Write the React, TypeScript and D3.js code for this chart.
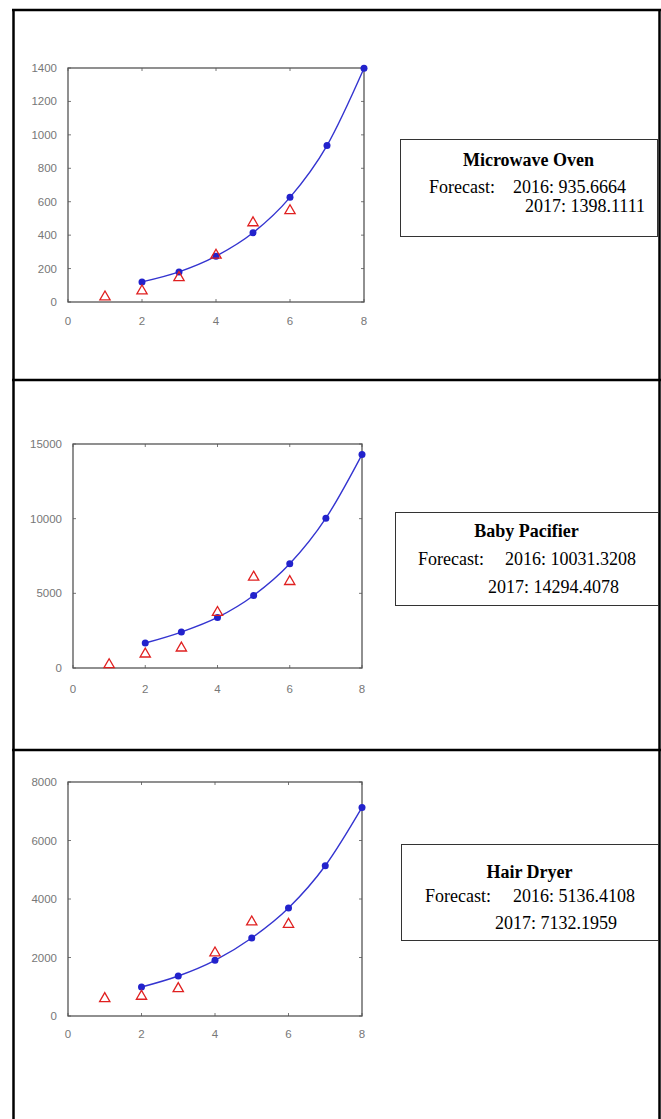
import React, { useEffect, useRef } from 'react'
import * as d3 from 'd3'

const W = 661
const H = 1119

// shared x values
const actualYears = [1, 2, 3, 4, 5, 6]
const fitYears = [2, 3, 4, 5, 6, 7, 8]
const xTicks = [0, 2, 4, 6, 8]

// Microwave Oven
const ovenActual = [30, 66, 146, 280, 474, 546]
const ovenFit = [120, 180, 274, 414, 626, 935.6664, 1398.1111]

// Baby Pacifier
const pacifierActual = [220, 936, 1337, 3718, 6085, 5791]
const pacifierFit = [1672, 2407, 3384, 4855, 6975, 10031.3208, 14294.4078]

// Hair Dryer
const dryerActual = [595, 674, 937, 2154, 3214, 3135]
const dryerFit = [991, 1368, 1904, 2667, 3692, 5136.4108, 7132.1959]

const products = ['Microwave Oven', 'Baby Pacifier', 'Hair Dryer']
const forecast2016 = ['935.6664', '10031.3208', '5136.4108']
const forecast2017 = ['1398.1111', '14294.4078', '7132.1959']
const yMax = [1400, 15000, 8000]
const yStep = [200, 5000, 2000]

const actualSeries = [ovenActual, pacifierActual, dryerActual]
const fitSeries = [ovenFit, pacifierFit, dryerFit]

// layout for each row (pixels)
const plots = [
  { left: 68, right: 364, top: 68, bottom: 302, xLab: 23 },
  { left: 73, right: 362, top: 444, bottom: 668, xLab: 25 },
  { left: 68, right: 362, top: 782, bottom: 1016, xLab: 22 }
]
const boxes = [
  { x: 400, y: 139, w: 257, h: 97, lines: [27, 54, 73], fx: 29, x16: 113, x17: 125 },
  { x: 395, y: 512, w: 263, h: 93, lines: [25, 53, 81], fx: 23, x16: 110, x17: 93 },
  { x: 401, y: 844, w: 257, h: 96, lines: [34, 58, 85], fx: 24, x16: 112, x17: 94 }
]

const App = () => {
  const ref = useRef<SVGSVGElement>(null)

  useEffect(() => {
    const svg = d3.select(ref.current)
    svg.selectAll('*').remove()

    svg.append('rect').attr('width', W).attr('height', H).attr('fill', '#fff')

    // table frame
    const frame = svg.append('g').attr('stroke', '#000').attr('stroke-width', 2.5)
    frame.append('line').attr('x1', 13.5).attr('x2', 13.5).attr('y1', 9).attr('y2', H)
    frame.append('line').attr('x1', 659.5).attr('x2', 659.5).attr('y1', 9).attr('y2', H)
    frame.append('line').attr('x1', 12).attr('x2', W).attr('y1', 10).attr('y2', 10)
    frame.append('line').attr('x1', 12).attr('x2', W).attr('y1', 380).attr('y2', 380)
    frame.append('line').attr('x1', 12).attr('x2', W).attr('y1', 750).attr('y2', 750)

    products.forEach((name, i) => {
      const p = plots[i]
      const x = d3.scaleLinear().domain([0, 8]).range([p.left, p.right])
      const y = d3.scaleLinear().domain([0, yMax[i]]).range([p.bottom, p.top])
      const yTicks = d3.range(0, yMax[i] + 1, yStep[i])
      const g = svg.append('g')

      // ticks on all four sides, pointing inward
      const tickG = g.append('g').attr('stroke', '#777').attr('stroke-width', 1)
      xTicks.forEach(t => {
        tickG.append('line').attr('x1', x(t)).attr('x2', x(t)).attr('y1', p.bottom).attr('y2', p.bottom - 3)
        tickG.append('line').attr('x1', x(t)).attr('x2', x(t)).attr('y1', p.top).attr('y2', p.top + 3)
      })
      yTicks.forEach(t => {
        tickG.append('line').attr('x1', p.left).attr('x2', p.left + 3).attr('y1', y(t)).attr('y2', y(t))
        tickG.append('line').attr('x1', p.right).attr('x2', p.right - 3).attr('y1', y(t)).attr('y2', y(t))
      })

      g.append('rect')
        .attr('x', p.left)
        .attr('y', p.top)
        .attr('width', p.right - p.left)
        .attr('height', p.bottom - p.top)
        .attr('fill', 'none')
        .attr('stroke', '#555')
        .attr('stroke-width', 1.3)

      g.append('g')
        .selectAll('text')
        .data(xTicks)
        .join('text')
        .attr('x', d => x(d))
        .attr('y', p.bottom + p.xLab)
        .attr('text-anchor', 'middle')
        .attr('font-family', 'Liberation Sans, Arial, sans-serif')
        .attr('font-size', 11.5)
        .attr('fill', '#777')
        .text(d => d)

      g.append('g')
        .selectAll('text')
        .data(yTicks)
        .join('text')
        .attr('x', p.left - 11)
        .attr('y', d => y(d))
        .attr('dy', '0.35em')
        .attr('text-anchor', 'end')
        .attr('font-family', 'Liberation Sans, Arial, sans-serif')
        .attr('font-size', 11.5)
        .attr('fill', '#777')
        .text(d => d)

      const fit = fitYears.map((yr, j) => [yr, fitSeries[i][j]] as [number, number])
      const line = d3
        .line<[number, number]>()
        .x(d => x(d[0]))
        .y(d => y(d[1]))
        .curve(d3.curveMonotoneX)

      g.append('path')
        .attr('d', line(fit))
        .attr('fill', 'none')
        .attr('stroke', '#3434d0')
        .attr('stroke-width', 1.4)

      g.append('g')
        .selectAll('circle')
        .data(fit)
        .join('circle')
        .attr('cx', d => x(d[0]))
        .attr('cy', d => y(d[1]))
        .attr('r', 3.5)
        .attr('fill', '#2222cc')

      const tri = d3.symbol().type(d3.symbolTriangle).size(46)
      g.append('g')
        .selectAll('path')
        .data(actualYears.map((yr, j) => [yr, actualSeries[i][j]]))
        .join('path')
        .attr('d', tri())
        .attr('transform', d => `translate(${x(d[0])},${y(d[1])})`)
        .attr('fill', 'none')
        .attr('stroke', '#e02020')
        .attr('stroke-width', 1.3)

      // forecast text box
      const b = boxes[i]
      const box = svg.append('g').attr('transform', `translate(${b.x},${b.y})`)
      box
        .append('rect')
        .attr('x', 0.5)
        .attr('y', 0.5)
        .attr('width', b.w)
        .attr('height', b.h)
        .attr('fill', '#fff')
        .attr('stroke', '#333')
        .attr('stroke-width', 1)
      const serif = 'Liberation Serif, Times New Roman, serif'
      box
        .append('text')
        .attr('x', b.w / 2)
        .attr('y', b.lines[0])
        .attr('text-anchor', 'middle')
        .attr('font-family', serif)
        .attr('font-size', 18)
        .attr('font-weight', 'bold')
        .text(name)
      box
        .append('text')
        .attr('x', b.fx)
        .attr('y', b.lines[1])
        .attr('font-family', serif)
        .attr('font-size', 18)
        .text('Forecast:')
      box
        .append('text')
        .attr('x', b.x16)
        .attr('y', b.lines[1])
        .attr('font-family', serif)
        .attr('font-size', 18)
        .text(`2016: ${forecast2016[i]}`)
      box
        .append('text')
        .attr('x', b.x17)
        .attr('y', b.lines[2])
        .attr('font-family', serif)
        .attr('font-size', 18)
        .text(`2017: ${forecast2017[i]}`)
    })
  }, [])

  return (
    <svg
      ref={ref}
      width={W}
      height={H}
      style={{ position: 'absolute', left: 0, top: 0, display: 'block' }}
    />
  )
}

export default App
